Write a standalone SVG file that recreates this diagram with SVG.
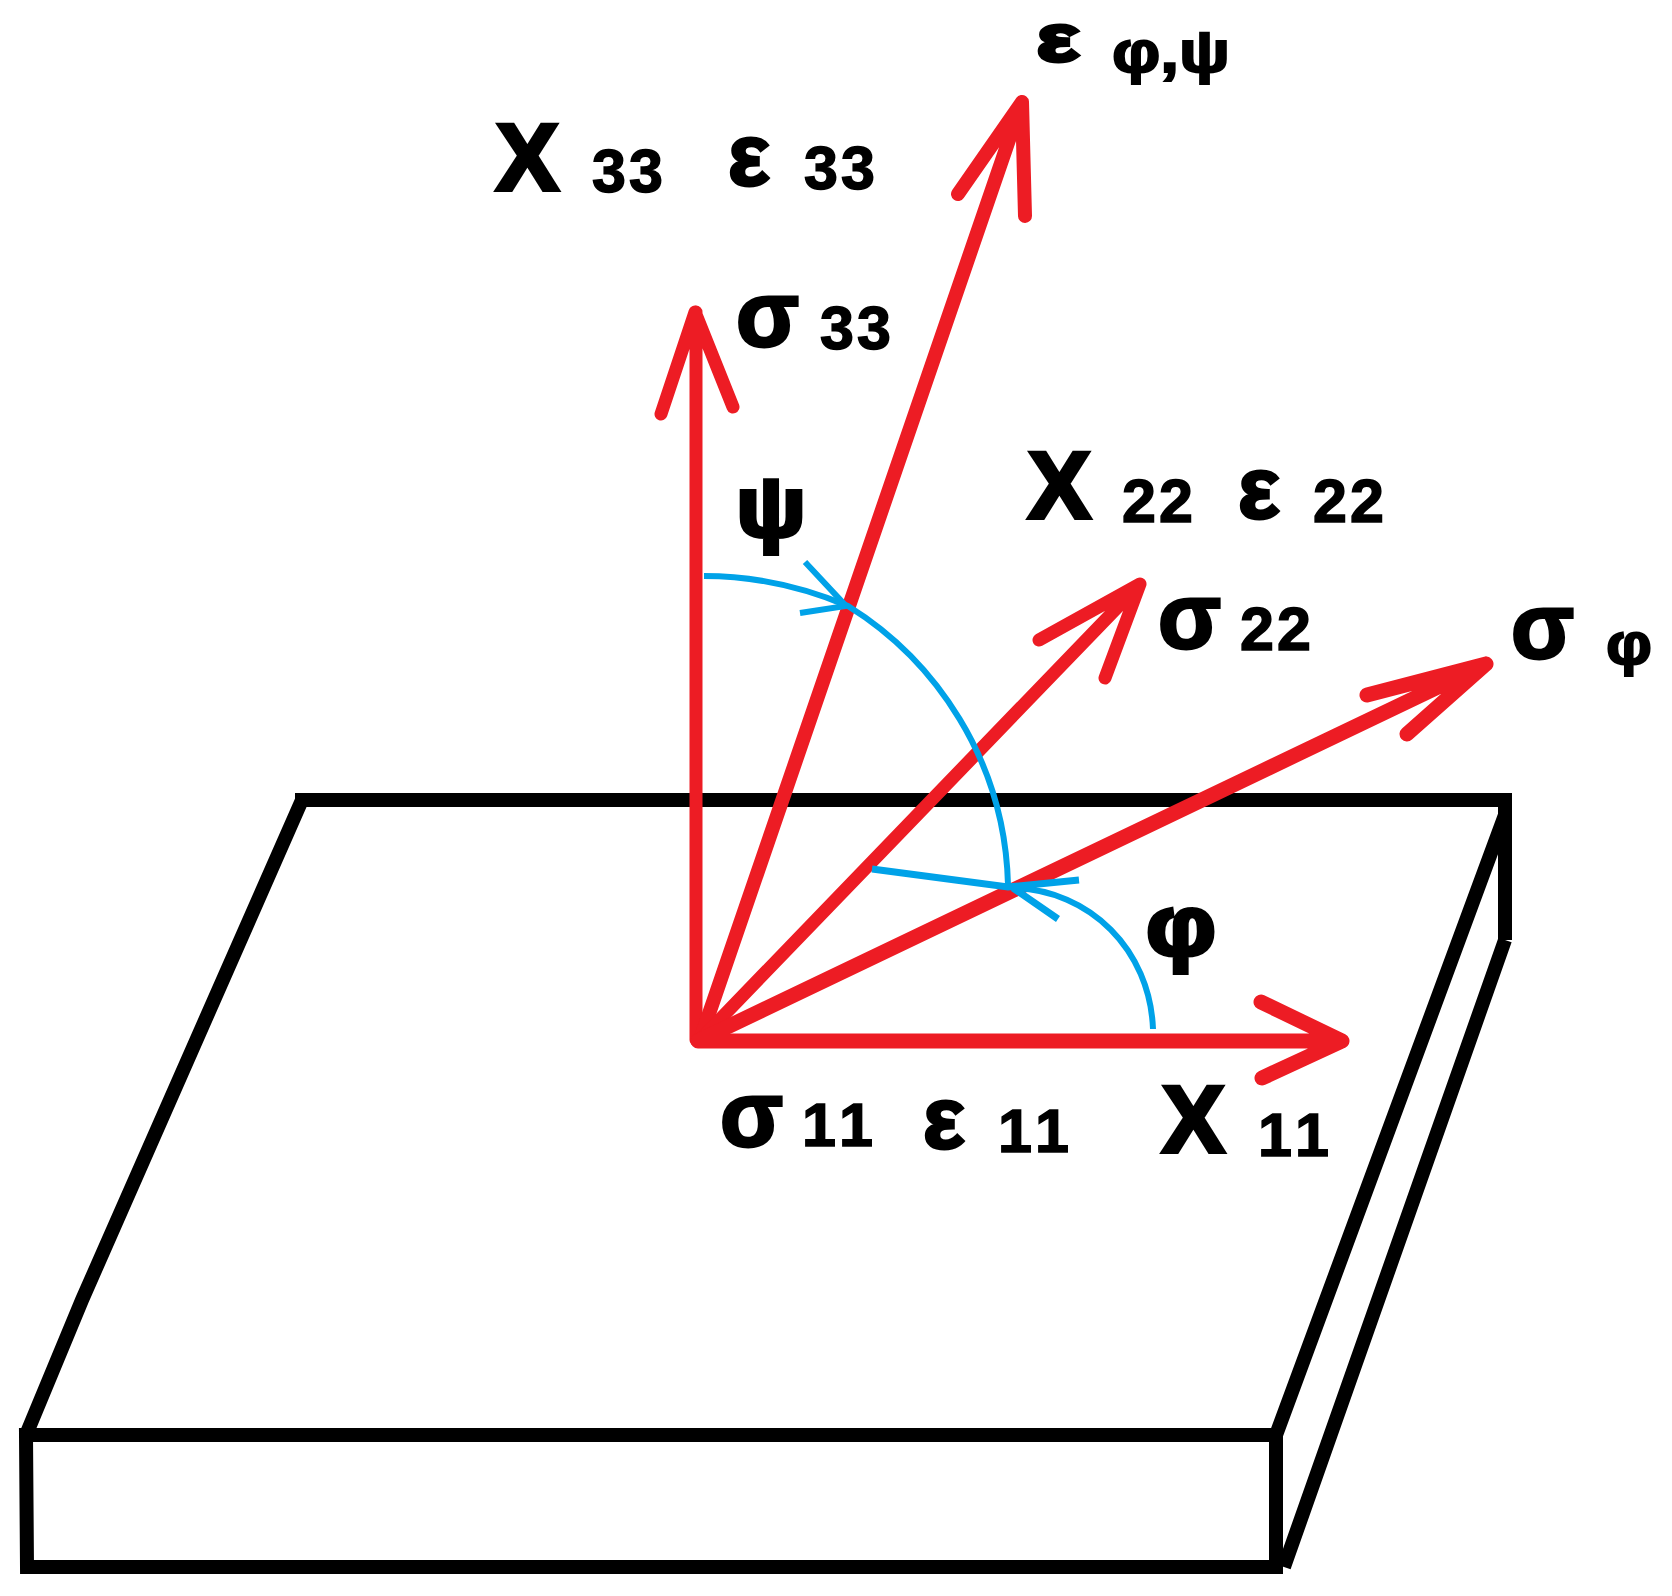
<svg xmlns="http://www.w3.org/2000/svg" width="1672" height="1596" viewBox="0 0 1672 1596">
<style>
.k{fill:none;stroke:#000;stroke-width:14;stroke-linejoin:miter}
.r{fill:none;stroke:#ed1c24;stroke-linecap:round;stroke-linejoin:round}
.b{fill:none;stroke:#00a2e8;stroke-width:6;stroke-linecap:butt}
text{font-family:"Liberation Sans",Arial,sans-serif;font-weight:700;fill:#000;stroke:#000;stroke-width:3;font-kerning:none}
.big{font-size:94px;stroke-width:4}.gr{font-size:92px}.ep{font-size:88px}.ang{font-size:86px;stroke-width:4}
.sub{font-size:61px;letter-spacing:3px;stroke-width:1.5}.ss{font-size:60px;stroke-width:2}
</style>
<rect width="1672" height="1596" fill="#fff"/>
<g id="plate">
<path class="k" d="M26 1435H1276V1567H27ZM26 1435L82 1300L302 800M295 800H1505V940M1505 815L1276 1435M1505 940L1284 1567"/>
</g>
<g id="connectors">
<g class="r">
<path stroke-width="13" d="M696 1040V312M661 414L695 312L733 407"/>
<path stroke-width="14" d="M700 1040L1022 102M958 194L1022 102L1025 216"/>
<path stroke-width="13" d="M700 1040L1140 584M1039 640L1140 584L1105 678"/>
<path stroke-width="15" d="M700 1040L1486 664M1367 695L1486 664L1407 734"/>
<path stroke-width="15" d="M698 1041H1342M1261 1002L1342 1041L1262 1078"/>
</g>
<g class="b">
<path d="M704 576C760 576 810 590 848 606C935 660 1005 760 1008 885"/>
<path d="M805 562L846 606L800 613"/>
<path d="M1153 1029C1150 950 1090 890 1013 888"/>
<path stroke-width="7" d="M872 869L1008 887L1079 880M1013 888L1058 919"/>
</g>
</g>
<g id="labels">
<text class="big" x="496" y="190">X</text><text class="sub" x="592" y="192">33</text>
<text class="ep" x="728" y="185">ε</text><text class="sub" x="804" y="189">33</text>
<text style="font-size:66px;stroke-width:4" x="1037" y="61" textLength="42" lengthAdjust="spacingAndGlyphs">ε</text><text class="ss" x="1112" y="72" textLength="118" lengthAdjust="spacingAndGlyphs">φ,ψ</text>
<text class="gr" x="736" y="346">σ</text><text class="sub" x="820" y="349">33</text>
<text class="ang" x="736" y="536" textLength="70" lengthAdjust="spacingAndGlyphs">ψ</text>
<text class="big" x="1028" y="518">X</text><text class="sub" x="1122" y="522">22</text>
<text class="ep" x="1238" y="518">ε</text><text class="sub" x="1313" y="522">22</text>
<text class="gr" x="1158" y="648">σ</text><text class="sub" x="1240" y="650">22</text>
<text class="gr" x="1511" y="658">σ</text><text class="ss" x="1606" y="664" textLength="46" lengthAdjust="spacingAndGlyphs">φ</text>
<text class="ang" x="1146" y="955" textLength="70" lengthAdjust="spacingAndGlyphs">φ</text>
<text class="gr" x="720" y="1146">σ</text><text class="sub" x="802" y="1146">11</text>
<text class="ep" x="923" y="1148">ε</text><text class="sub" x="998" y="1152">11</text>
<text class="big" x="1162" y="1152">X</text><text class="sub" x="1258" y="1156">11</text>
</g>
</svg>
